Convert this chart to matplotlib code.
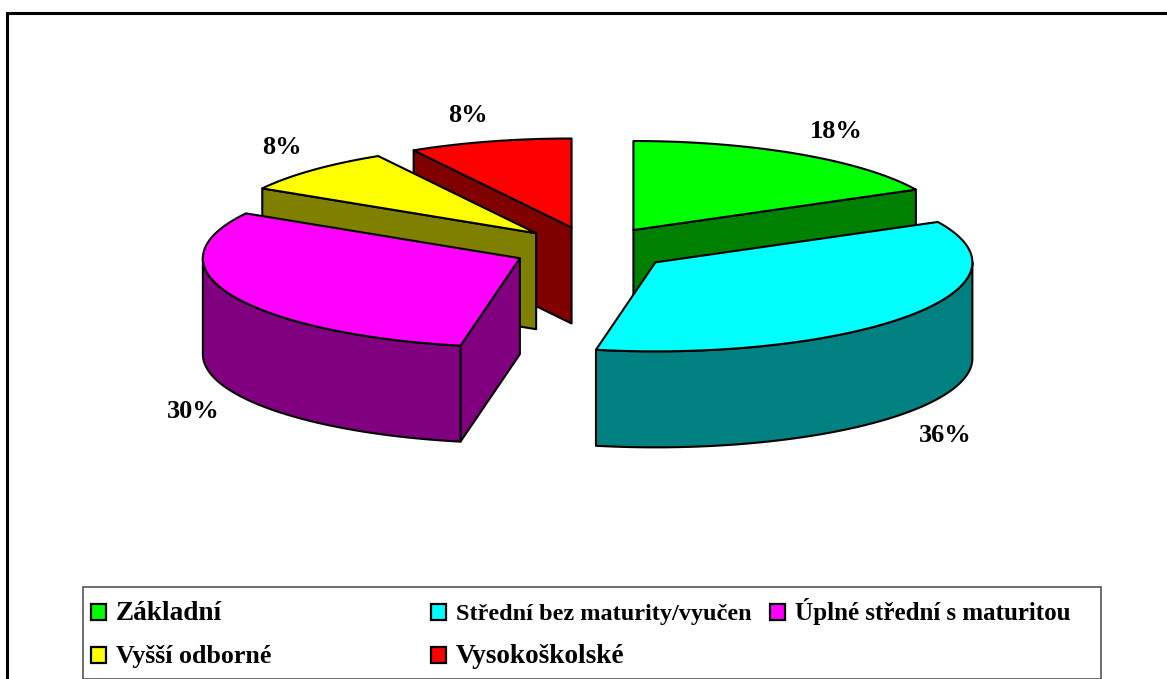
import numpy as np
import matplotlib
matplotlib.use('Agg')
import matplotlib.pyplot as plt
from matplotlib.patches import Polygon, Rectangle

# podil v procentech (popisky se zaokrouhluji)
categories = ['Základní', 'Střední bez maturity/vyučen', 'Úplné střední s maturitou',
              'Vyšší odborné', 'Vysokoškolské']
values = [17.5, 35.5, 30.4, 8.3, 8.3]
labels = ['18%', '36%', '30%', '8%', '8%']
top_colors = ['#00FF00', '#00FFFF', '#FF00FF', '#FFFF00', '#FF0000']
side_colors = ['#008000', '#008080', '#800080', '#808000', '#800000']

# vzhled kolace v pixelech
CX, CY = 592, 249
RX, RY = 317, 89
DEPTH = 96
EXPLODE = 0.25
label_xy = [(836, 131), (945, 435), (193, 411), (282, 147), (468, 115)]
legend_xy = [(91, 612), (431, 612), (770, 612), (91, 655), (431, 655)]
legend_size = [19.6, 17.5, 18, 18.7, 19.6]
FONT = 'Liberation Serif'

plt.rcParams['font.family'] = FONT
fig = plt.figure(figsize=(11.67, 6.79), dpi=100)
ax = fig.add_axes([0, 0, 1, 1])
ax.set_xlim(0, 1167)
ax.set_ylim(679, 0)
ax.axis('off')

# ramecek grafu (vpravo a dole je oriznuty)
ax.add_patch(Rectangle((6.5, 12.5), 1300, 700, fc='white', ec='black', lw=2.2, zorder=0))


def ell(ang, x0, y0):
    return x0 + RX * np.sin(ang), y0 - RY * np.cos(ang)


def poly(pts, color, z):
    ax.add_patch(Polygon(pts, closed=True, fc=color, ec='black', lw=1.5, joinstyle='round', zorder=z))


fr = np.array(values) / sum(values)
starts = np.concatenate([[0], np.cumsum(fr)[:-1]]) * 2 * np.pi
ends = np.cumsum(fr) * 2 * np.pi

# vzadu jsou vysokoskolske, vepredu stredni (malirsky postup)
order = [4, 3, 0, 2, 1]
for z, i in enumerate(order):
    mid = (starts[i] + ends[i]) / 2
    ax0, ay0 = CX + EXPLODE * RX * np.sin(mid), CY - EXPLODE * RY * np.cos(mid)
    a0, a1 = starts[i], ends[i]
    base = 10 + z * 5
    # rezne steny kreslime jen kdyz miri k divakovi
    for a, visible in ((a0, np.sin(a0) < 0), (a1, np.sin(a1) > 1e-6)):
        if visible:
            x, y = ell(a, ax0, ay0)
            poly([(ax0, ay0), (x, y), (x, y + DEPTH), (ax0, ay0 + DEPTH)], side_colors[i], base)
    # predni plast jen tam, kde je videt
    lo, hi = max(a0, np.pi / 2), min(a1, 3 * np.pi / 2)
    if hi > lo:
        t = np.linspace(lo, hi, 120)
        xs, ys = ell(t, ax0, ay0)
        rim = list(zip(xs, ys)) + list(zip(xs[::-1], ys[::-1] + DEPTH))
        poly(rim, side_colors[i], base + 1)
    t = np.linspace(a0, a1, 160)
    xs, ys = ell(t, ax0, ay0)
    poly([(ax0, ay0)] + list(zip(xs, ys)), top_colors[i], base + 2)

for lab, (x, y) in zip(labels, label_xy):
    ax.text(x, y, lab, ha='center', va='center', fontsize=19, fontweight='bold', zorder=60)

# legenda
ax.add_patch(Rectangle((83, 587), 1018, 92, fc='white', ec='#555555', lw=1.2, zorder=50, clip_on=False))
for name, col, (x, y), size in zip(categories, top_colors, legend_xy, legend_size):
    ax.add_patch(Rectangle((x, y - 8.5), 15, 16, fc=col, ec='black', lw=1.6, zorder=55))
    ax.text(x + 25, y + 8, name, ha='left', va='baseline', fontsize=size, fontweight='bold', zorder=56)

fig.savefig('out.png', dpi=100)
